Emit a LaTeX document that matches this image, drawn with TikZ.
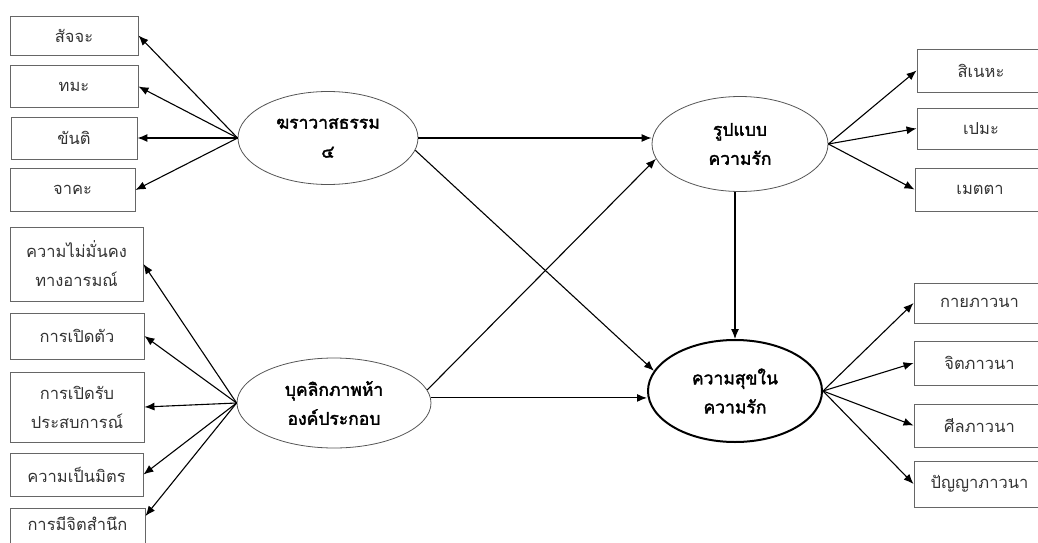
\documentclass[tikz,border=0pt]{standalone}
\usepackage{fontspec}
\newfontfamily\thaifont[Script=Thai]{Loma}
\newfontfamily\thaibold[Script=Thai,FakeBold=2.2]{Loma}
\usetikzlibrary{arrows.meta,shapes.geometric}
\definecolor{boxgray}{HTML}{666666}
\definecolor{ellgray}{HTML}{555555}
\definecolor{txtgray}{HTML}{333333}
\begin{document}
\begin{tikzpicture}[x=1pt,y=-1pt,
  every node/.style={font=\thaifont\fontsize{16.5}{29}\selectfont, inner sep=0pt, align=center},
  ibox/.style={draw=boxgray, text=txtgray, line width=0.9pt, rectangle},
  lat/.style={draw=ellgray, line width=0.8pt, ellipse, font=\thaibold\fontsize{17.5}{29}\selectfont},
  latk/.style={draw=black, line width=2pt, ellipse, font=\thaibold\fontsize{17.5}{29}\selectfont},
  arr/.style={draw=black, line width=1.1pt, -{Latex[length=10pt,width=8pt]}}]
\useasboundingbox (0,0) rectangle (1038,543);
% left top boxes
\node[ibox, minimum width=128, minimum height=39] (s1) at (74,35.5) {สัจจะ};
\node[ibox, minimum width=128, minimum height=42] (s2) at (74,86.5) {ทมะ};
\node[ibox, minimum width=126, minimum height=42] (s3) at (74,138) {ขันติ};
\node[ibox, minimum width=125, minimum height=43] (s4) at (72.5,190) {จาคะ};
% left bottom boxes
\node[ibox, minimum width=133, minimum height=74] (p1) at (76.5,264) {ความไม่มั่นคง\\ทางอารมณ์};
\node[ibox, minimum width=134, minimum height=46] (p2) at (77,336) {การเปิดตัว};
\node[ibox, minimum width=134, minimum height=70] (p3) at (77,407) {การเปิดรับ\\ประสบการณ์};
\node[ibox, minimum width=133, minimum height=43] (p4) at (76.5,474.5) {ความเป็นมิตร};
\node[ibox, minimum width=135, minimum height=40] (p5) at (77.5,528) {\raisebox{8pt}{การมีจิตสำนึก}};
% right boxes
\node[ibox, minimum width=128, minimum height=43] (r1) at (981,70.5) {สิเนหะ};
\node[ibox, minimum width=128, minimum height=41] (r2) at (981,128.5) {เปมะ};
\node[ibox, minimum width=130, minimum height=43] (r3) at (980,189.5) {เมตตา};
\node[ibox, minimum width=131, minimum height=40] (h1) at (979.5,303) {กายภาวนา};
\node[ibox, minimum width=131, minimum height=44] (h2) at (979.5,363) {จิตภาวนา};
\node[ibox, minimum width=131, minimum height=43] (h3) at (979.5,425.5) {ศีลภาวนา};
\node[ibox, minimum width=131, minimum height=46] (h4) at (979.5,484) {ปัญญาภาวนา};
% latent ellipses
\node[lat, minimum width=180, minimum height=93] (e1) at (328,138) {ฆราวาสธรรม\\๔};
\node[lat, minimum width=194, minimum height=90] (e2) at (334,403) {บุคลิกภาพห้า\\องค์ประกอบ};
\node[lat, minimum width=176, minimum height=95] (e3) at (740,144) {รูปแบบ\\ความรัก};
\node[latk, minimum width=174, minimum height=102] (e4) at (735,391) {ความสุขใน\\ความรัก};
% indicator arrows
\foreach \b in {s1,s2,s3,s4} \draw[arr] (e1.west) -- (\b.east);
\foreach \b in {p1,p2,p3,p4} \draw[arr] (e2.west) -- (\b.east);
\draw[arr] (e2.west) -- (p5.10);
\foreach \b in {r1,r2,r3} \draw[arr] (e3.east) -- (\b.west);
\foreach \b in {h1,h2,h3,h4} \draw[arr] (e4.east) -- (\b.west);
% structural arrows
\draw[arr] (e1.east) -- (e1.east -| e3.west);
\draw[arr] (e1.-8) -- (e4.166);
\draw[arr] (e2.8) -- (e3.190);
\draw[arr] (e2.3) -- (e2.3 -| e4.west);
\draw[arr] (e4.north |- e3.south) -- (e4.north);
\end{tikzpicture}
\end{document}
